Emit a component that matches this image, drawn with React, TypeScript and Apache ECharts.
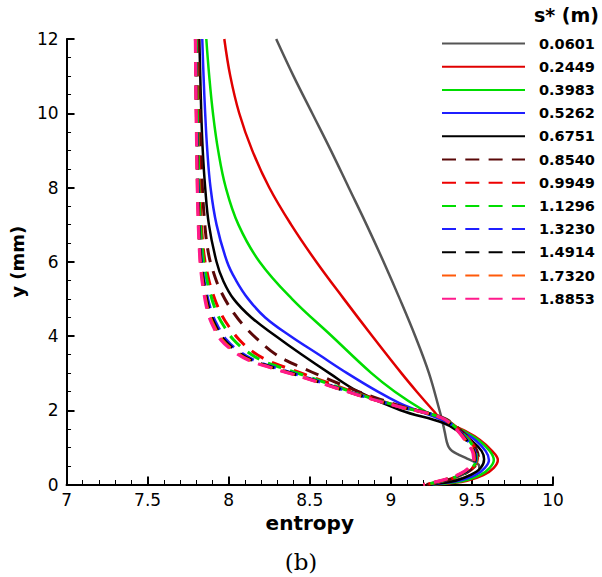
import React, { useEffect, useRef } from "react";
import * as echarts from "echarts";

const seriesNames = ["0.0601", "0.2449", "0.3983", "0.5262", "0.6751", "0.8540", "0.9949", "1.1296", "1.3230", "1.4914", "1.7320", "1.8853"];
const seriesColors = ["#555555", "#e00000", "#00dd00", "#1f1fff", "#000000", "#5a0808", "#ee0000", "#00dd00", "#1f1fff", "#000000", "#ff5a0a", "#ff1a8c"];
const seriesDashed = [false, false, false, false, false, true, true, true, true, true, true, true];

const s0601 = [[8.293,12],[8.40,11],[8.515,10],[8.63,9],[8.74,8],[8.85,7],[8.955,6],[9.055,5],[9.15,4],[9.235,3],[9.30,2],[9.318,1.7],[9.333,1.4],[9.345,1.15],[9.358,1.0],[9.378,0.9],[9.42,0.8],[9.47,0.7],[9.52,0.6],[9.545,0.5],[9.545,0.4],[9.515,0.3],[9.46,0.2],[9.38,0.1],[9.27,0]];
const s2449 = [[7.973,12],[8.01,11],[8.065,10],[8.145,9],[8.25,8],[8.385,7],[8.54,6],[8.71,5],[8.885,4],[9.065,3],[9.16,2.5],[9.26,2],[9.315,1.74],[9.445,1.47],[9.55,1.2],[9.625,0.9],[9.66,0.66],[9.635,0.45],[9.57,0.25],[9.47,0.1],[9.36,0.03],[9.28,0]];
const s3983 = [[7.862,12],[7.88,11],[7.903,10],[7.935,9],[7.982,8],[8.06,7],[8.19,6],[8.39,5],[8.635,4],[8.88,3],[9.025,2.5],[9.2,2],[9.284,1.82],[9.44,1.46],[9.54,1.2],[9.61,0.9],[9.635,0.66],[9.61,0.45],[9.55,0.25],[9.45,0.1],[9.34,0.03],[9.26,0]];
const s5262 = [[7.837,12],[7.845,11],[7.855,10],[7.868,9],[7.888,8],[7.925,7],[7.99,6],[8.045,5.5],[8.12,5],[8.225,4.5],[8.38,4],[8.555,3.5],[8.73,3],[8.92,2.5],[9.05,2.2],[9.16,2],[9.315,1.74],[9.43,1.45],[9.52,1.2],[9.585,0.9],[9.605,0.66],[9.58,0.45],[9.52,0.25],[9.42,0.1],[9.31,0.03],[9.25,0]];
const s6751 = [[7.819,12],[7.831,10],[7.84,9],[7.855,8],[7.878,7],[7.925,6],[7.965,5.5],[8.03,5],[8.14,4.5],[8.29,4],[8.45,3.5],[8.62,3],[8.80,2.5],[9.06,2],[9.321,1.66],[9.42,1.42],[9.50,1.17],[9.56,0.9],[9.575,0.68],[9.555,0.45],[9.49,0.25],[9.40,0.1],[9.30,0.03],[9.24,0]];
const s8540 = [[7.81,12],[7.822,10],[7.838,8],[7.853,7],[7.872,6.3],[7.9,5.8],[7.952,5.2],[8.034,4.6],[8.11,4.2],[8.18,3.9],[8.26,3.6],[8.35,3.35],[8.45,3.15],[8.58,2.9],[8.69,2.7],[8.80,2.5],[8.93,2.3],[9.07,2.1],[9.32,1.8],[9.42,1.5],[9.49,1.2],[9.53,0.92],[9.54,0.7],[9.52,0.5],[9.46,0.3],[9.35,0.12],[9.22,0]];
const s9949 = [[7.802,12],[7.81,10],[7.822,8],[7.832,7],[7.845,6.3],[7.863,5.8],[7.898,5.2],[7.953,4.6],[8.01,4.2],[8.065,3.9],[8.142,3.6],[8.235,3.35],[8.352,3.15],[8.512,2.9],[8.64,2.7],[8.765,2.5],[8.905,2.3],[9.058,2.1],[9.315,1.8],[9.415,1.5],[9.485,1.2],[9.525,0.92],[9.535,0.7],[9.515,0.5],[9.455,0.3],[9.345,0.12],[9.215,0]];
const s11296 = [[7.80,12],[7.807,10],[7.817,8],[7.826,7],[7.838,6.3],[7.853,5.8],[7.883,5.2],[7.929,4.6],[7.98,4.2],[8.03,3.9],[8.107,3.6],[8.20,3.35],[8.323,3.15],[8.492,2.9],[8.625,2.7],[8.755,2.5],[8.898,2.3],[9.054,2.1],[9.313,1.8],[9.41,1.5],[9.48,1.2],[9.52,0.92],[9.53,0.7],[9.51,0.5],[9.45,0.3],[9.34,0.12],[9.21,0]];
const s13230 = [[7.796,12],[7.802,10],[7.811,8],[7.818,7],[7.827,6.3],[7.838,5.8],[7.861,5.2],[7.897,4.6],[7.94,4.2],[7.985,3.9],[8.06,3.6],[8.155,3.35],[8.284,3.15],[8.465,2.9],[8.605,2.7],[8.74,2.5],[8.888,2.3],[9.049,2.1],[9.312,1.8],[9.405,1.5],[9.47,1.2],[9.515,0.92],[9.525,0.7],[9.505,0.5],[9.445,0.3],[9.335,0.12],[9.205,0]];
const s14914 = [[7.795,12],[7.801,10],[7.809,8],[7.816,7],[7.824,6.3],[7.834,5.8],[7.855,5.2],[7.887,4.6],[7.928,4.2],[7.971,3.9],[8.046,3.6],[8.141,3.35],[8.273,3.15],[8.457,2.9],[8.599,2.7],[8.736,2.5],[8.885,2.3],[9.047,2.1],[9.311,1.8],[9.40,1.5],[9.465,1.2],[9.51,0.92],[9.52,0.7],[9.50,0.5],[9.44,0.3],[9.33,0.12],[9.2,0]];
const s17320 = [[7.795,12],[7.80,10],[7.807,8],[7.814,7],[7.821,6.3],[7.83,5.8],[7.849,5.2],[7.879,4.6],[7.918,4.2],[7.959,3.9],[8.034,3.6],[8.129,3.35],[8.263,3.15],[8.45,2.9],[8.594,2.7],[8.733,2.5],[8.882,2.3],[9.046,2.1],[9.31,1.8],[9.40,1.5],[9.46,1.2],[9.505,0.92],[9.515,0.7],[9.495,0.5],[9.435,0.3],[9.325,0.12],[9.2,0]];
const s18853 = [[7.794,12],[7.799,10],[7.806,8],[7.812,7],[7.819,6.3],[7.827,5.8],[7.845,5.2],[7.873,4.6],[7.91,4.2],[7.95,3.9],[8.025,3.6],[8.12,3.35],[8.255,3.15],[8.445,2.9],[8.59,2.7],[8.73,2.5],[8.88,2.3],[9.045,2.1],[9.31,1.8],[9.40,1.5],[9.455,1.2],[9.50,0.92],[9.51,0.7],[9.49,0.5],[9.43,0.3],[9.32,0.12],[9.2,0]];

const seriesData = [s0601, s2449, s3983, s5262, s6751, s8540, s9949, s11296, s13230, s14914, s17320, s18853];

const xTicks = { min: 7, max: 10, interval: 0.5 };
const yTicks = { min: 0, max: 12, interval: 2 };

const FONT = "DejaVu Sans, Liberation Sans, Arial, sans-serif";
const DASH = [14, 9.3];

export default function App() {
  const ref = useRef<HTMLDivElement>(null);
  useEffect(() => {
    document.body.style.margin = "0";
    if (!ref.current) return;
    const chart = echarts.init(ref.current, null, { renderer: "svg" });
    const axisCommon = {
      type: "value" as const,
      axisLine: { show: true, lineStyle: { color: "#000", width: 2 } },
      axisTick: { show: true, inside: true, length: 8, lineStyle: { color: "#000", width: 2 } },
      minorTick: { show: true, length: 4.5, lineStyle: { color: "#000", width: 1 } },
      splitLine: { show: false },
      axisLabel: { color: "#000", fontSize: 17, fontFamily: FONT },
      nameLocation: "middle" as const,
      nameTextStyle: { color: "#000", fontSize: 20, fontWeight: "bold" as const, fontFamily: FONT },
    };
    chart.setOption({
      animation: false,
      backgroundColor: "#fff",
      title: {
        text: "s* (m)",
        left: 534,
        top: 5,
        padding: 0,
        textStyle: { fontSize: 19, fontWeight: "bold", fontFamily: FONT, color: "#000" },
      },
      legend: {
        orient: "vertical",
        left: 441,
        top: 36,
        padding: 0,
        itemWidth: 83,
        itemHeight: 14,
        itemGap: 8.2,
        data: seriesNames,
        itemStyle: { color: "rgba(0,0,0,0)", borderWidth: 0, opacity: 0 },
        textStyle: { fontSize: 14.5, fontWeight: "bold", fontFamily: FONT, color: "#000", padding: [0, 0, 0, 9] },
        selectedMode: false,
      },
      grid: { left: 66, top: 39, width: 487, height: 445.5 },
      xAxis: {
        ...axisCommon,
        min: xTicks.min,
        max: xTicks.max,
        interval: xTicks.interval,
        minorTick: { ...axisCommon.minorTick, splitNumber: 5 },
        axisLabel: { ...axisCommon.axisLabel, margin: 7 },
        name: "entropy",
        nameGap: 28,
      },
      yAxis: {
        ...axisCommon,
        min: yTicks.min,
        max: yTicks.max,
        interval: yTicks.interval,
        minorTick: { ...axisCommon.minorTick, splitNumber: 4 },
        axisLabel: { ...axisCommon.axisLabel, margin: 8 },
        name: "y (mm)",
        nameGap: 24,
        nameTextStyle: { ...axisCommon.nameTextStyle, fontSize: 18 },
      },
      graphic: [
        {
          type: "text",
          left: "center",
          top: 550,
          style: { text: "(b)", fontSize: 23, fontFamily: "DejaVu Serif, Liberation Serif, serif", fill: "#000" },
        },
      ],
      series: seriesData.map((d, i) => ({
        type: "line",
        name: seriesNames[i],
        data: d,
        symbol: "none",
        smooth: 0.4,
        clip: true,
        lineStyle: {
          color: seriesColors[i],
          width: seriesDashed[i] ? 3 : 2.5,
          type: seriesDashed[i] ? DASH : "solid",
        },
        itemStyle: { color: seriesColors[i] },
      })),
    });
    return () => chart.dispose();
  }, []);
  return <div ref={ref} style={{ width: 602, height: 577 }} />;
}
